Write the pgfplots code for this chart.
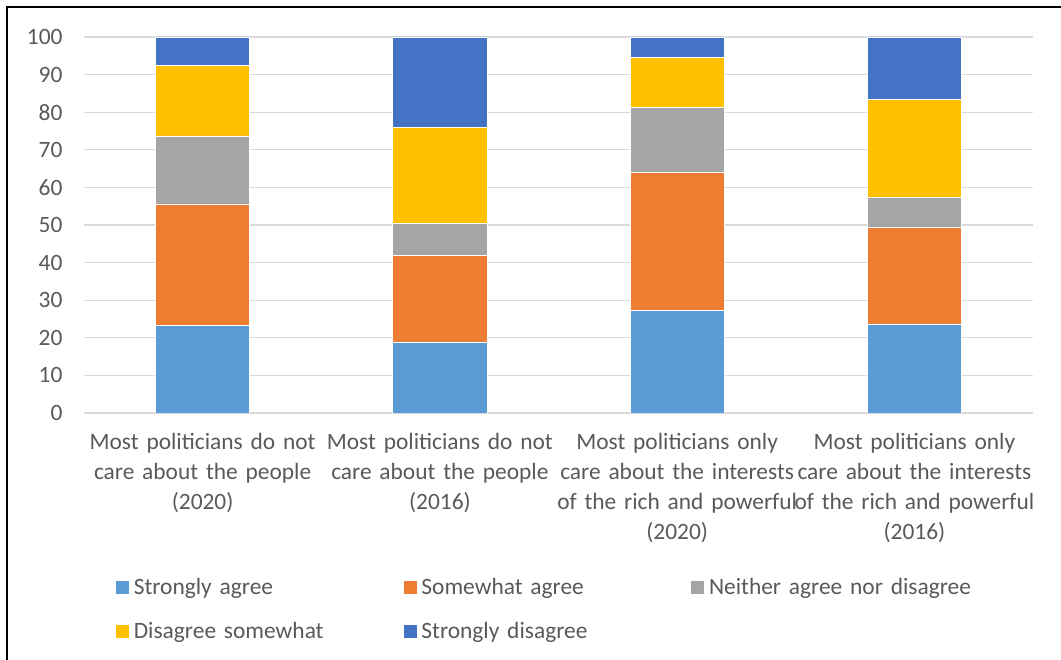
\documentclass[border=0pt]{standalone}
\usepackage{pgfplots}
\pgfplotsset{compat=1.18}
\usepackage{fontspec}
\setmainfont{Carlito}

\definecolor{sagree}{HTML}{5B9BD5}
\definecolor{wagree}{HTML}{ED7D31}
\definecolor{neither}{HTML}{A5A5A5}
\definecolor{dsome}{HTML}{FFC000}
\definecolor{sdis}{HTML}{4472C4}
\definecolor{gridc}{HTML}{D9D9D9}
\definecolor{txt}{HTML}{595959}

% Shares of respondents (%) per statement and survey year
\pgfplotstableread{
x  sa    wa    na    ds    sd
0  23.2  32.4  18.1  18.8  7.5
1  18.9  23.0  8.5   25.5  24.1
2  27.3  36.7  17.2  13.3  5.5
3  23.7  25.7  7.9   26.0  16.7
}\datatable

\begin{document}
\begin{tikzpicture}[x=1bp,y=1bp]
  \useasboundingbox (0,0) rectangle (1061,660);
  \draw[line width=2bp, black] (7,0) -- (7,653) -- (1061,653);
  \begin{axis}[
    at={(84bp,247bp)}, anchor=south west,
    scale only axis,
    width=949bp, height=376bp,
    ybar stacked,
    bar width=0.397,
    xmin=-0.5, xmax=3.5,
    ymin=0, ymax=100,
    ytick={0,10,...,100},
    xtick=data,
    xticklabels={
      {Most politicians do not\\care about the people\\(2020)},
      {Most politicians do not\\care about the people\\(2016)},
      {Most politicians only\\care about the interests\\of the rich and powerful\\(2020)},
      {Most politicians only\\care about the interests\\of the rich and powerful\\(2016)}},
    axis line style={draw=none},
    major tick length=0pt,
    ymajorgrids,
    grid style={gridc, line width=1.3bp},
    /pgf/number format/assume math mode=true,
    tick label style={font=\fontsize{23.5}{30}\selectfont, text=txt},
    yticklabel style={anchor=east, xshift=-18bp},
    xticklabel style={align=center, text width=240bp, anchor=north, yshift=-17bp},
    legend columns=3,
    legend cell align=left,
    legend style={
      at={(0.0327,-0.433)}, anchor=north west,
      draw=none, fill=none, inner sep=0pt,
      font=\fontsize{23.5}{30}\selectfont, text=txt,
      nodes={text width=265bp, inner xsep=4bp},
      /tikz/every even column/.append style={column sep=0bp},
      row sep=23bp,
    },
    legend image code/.code={\fill[#1] (0bp,-7bp) rectangle (14bp,7bp);},
    every axis plot/.append style={draw=white, line width=0.6bp},
  ]
    \addplot[fill=sagree] table[x=x, y=sa] {\datatable};
    \addplot[fill=wagree] table[x=x, y=wa] {\datatable};
    \addplot[fill=neither] table[x=x, y=na] {\datatable};
    \addplot[fill=dsome] table[x=x, y=ds] {\datatable};
    \addplot[fill=sdis] table[x=x, y=sd] {\datatable};
    \legend{Strongly agree, Somewhat agree, Neither agree nor disagree,
            Disagree somewhat, Strongly disagree}
  \end{axis}
\end{tikzpicture}
\end{document}
